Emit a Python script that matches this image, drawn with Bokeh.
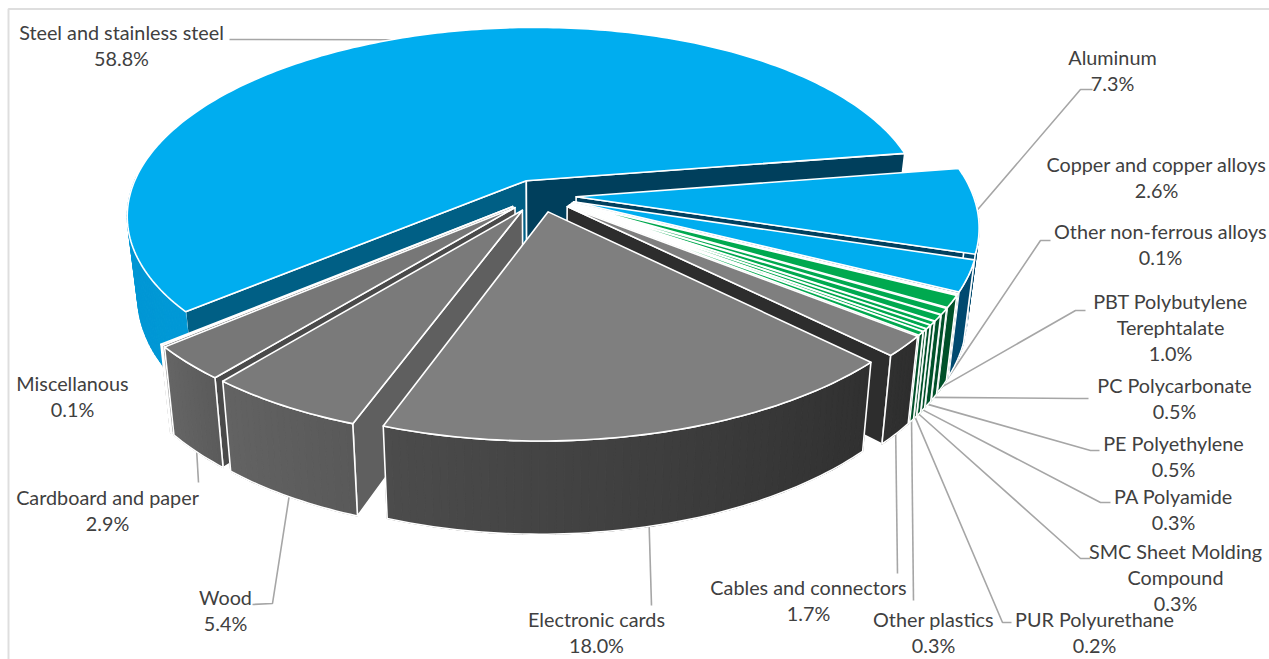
import math
from bokeh.plotting import figure
from bokeh.models import Range1d, ColumnDataSource
from bokeh.core.properties import value
from bokeh.embed import file_html
from bokeh.resources import INLINE

# ---- data -------------------------------------------------------------
materials = ["Steel and stainless steel", "Aluminum", "Copper and copper alloys",
             "Other non-ferrous alloys", "PBT Polybutylene Terephtalate", "PC Polycarbonate",
             "PE Polyethylene", "PA Polyamide", "SMC Sheet Molding Compound",
             "PUR Polyurethane", "Other plastics", "Cables and connectors",
             "Electronic cards", "Wood", "Cardboard and paper", "Miscellanous"]
shares = [58.8, 7.3, 2.6, 0.1, 1.0, 0.5, 0.5, 0.3, 0.3, 0.2, 0.3, 1.7, 18.0, 5.4, 2.9, 0.1]
label_lines = [["Steel and stainless steel"], ["Aluminum"], ["Copper and copper alloys"],
               ["Other non-ferrous alloys"], ["PBT Polybutylene", "Terephtalate"], ["PC Polycarbonate"],
               ["PE Polyethylene"], ["PA Polyamide"], ["SMC Sheet Molding", "Compound"],
               ["PUR Polyurethane"], ["Other plastics"], ["Cables and connectors"],
               ["Electronic cards"], ["Wood"], ["Cardboard and paper"], ["Miscellanous"]]

# ---- styles: top colour, side colours (start, end), cut-face colours (start, end)
BLUE, NAVY = "#00adef", "#004a70"
GREEN, DGREEN = "#00a94f", "#00512a"
styles = [
    (BLUE, "#0098d6", "#0096d3", "#005f85", "#003f5c"),
    (BLUE, NAVY, NAVY, "#004464", "#00405f"),
    (BLUE, NAVY, NAVY, "#004464", "#00405f"),
    (BLUE, NAVY, NAVY, "#004464", "#00405f"),
    (GREEN, DGREEN, DGREEN, DGREEN, DGREEN),
    (GREEN, DGREEN, DGREEN, DGREEN, DGREEN),
    (GREEN, DGREEN, DGREEN, DGREEN, DGREEN),
    (GREEN, DGREEN, DGREEN, DGREEN, DGREEN),
    (GREEN, DGREEN, DGREEN, DGREEN, DGREEN),
    (GREEN, DGREEN, DGREEN, DGREEN, DGREEN),
    (GREEN, DGREEN, DGREEN, DGREEN, DGREEN),
    ("#7f7f7f", "#2e2e2e", "#303030", "#2d2d2d", "#2d2d2d"),
    ("#7f7f7f", "#303030", "#4c4c4c", "#2d2d2d", "#2d2d2d"),
    ("#7a7a7a", "#595959", "#636363", "#5f5f5f", "#5f5f5f"),
    ("#777777", "#5a5a5a", "#666666", "#4a4a4a", "#4a4a4a"),
    ("#777777", "#666666", "#666666", "#666666", "#666666"),
]

# ---- layout ------------------------------------------------------------
CX, CY = 540.0, 195.0      # pie centre on the page
A, B = 397.0, 184.0        # radii of the top plane
SKEW = -8.0                # slight horizontal shear of the view
PERSP = 0.17               # perspective strength
BOTTOM_SCALE = 0.975
DEPTH_BACK, DEPTH_NEAR = 78.0, 14.0
EXPLODE = 0.09
START_ANGLE = 139.3        # where the first slice starts, clockwise from 3 o'clock
DRAW_ORDER = [0, 1, 2, 3, 4, 5, 6, 7, 8, 9, 10, 11, 15, 14, 13, 12]

# label centre x, first-line centre y
label_pos = [(121, 31), (1112, 56), (1156, 163), (1160, 230), (1170, 300), (1174, 384),
             (1173, 442), (1173, 495), (1175, 550), (1094, 618), (933, 618), (808, 586),
             (596, 618), (225, 596), (107, 496), (72, 382)]
LINE_STEP = 26.3
# leader: points on the label side, then the rim anchor ("t" top rim / "b" bottom rim / None)
leader_side = [[(229, 39)], [(1092, 89), (1080, 89)], None, [(1050, 240), (1040, 240)],
               [(1085, 310), (1075, 310)], [(1088, 398), (1075, 398)], [(1099, 450), (1090, 450)],
               [(1110, 502), (1100, 502)], [(1090, 558), (1080, 558)], [(1011, 622), (1002, 622)],
               [(913, 600)], [(897, 573)], [(651, 605)], [(252, 604), (272, 603)], [(198, 482)], None]
leader_rim = ["t", "t", None, "b", "b", "b", "b", "b", "b", "b", "b", "b", "b", "b", "b", None]


def project(X, Y, bottom=False):
    den = 1 - PERSP * Y
    x = (A * X + SKEW * Y) / den
    y = B * Y / den
    if bottom:
        return CX + x * BOTTOM_SCALE, CY + y + DEPTH_BACK + DEPTH_NEAR * Y
    return CX + x, CY + y


def mix(c1, c2, t):
    a = [int(c1[i:i + 2], 16) for i in (1, 3, 5)]
    b = [int(c2[i:i + 2], 16) for i in (1, 3, 5)]
    return "#%02x%02x%02x" % tuple(round(u + (v - u) * t) for u, v in zip(a, b))


# slice angles from the values
total = sum(shares)
spans = []
ang = START_ANGLE
for s in shares:
    d = 360.0 * s / total
    spans.append((ang, ang + d))
    ang += d


def rim(i, deg):
    t1, t2 = spans[i]
    m = math.radians((t1 + t2) / 2)
    t = math.radians(deg)
    return EXPLODE * math.cos(m) + math.cos(t), EXPLODE * math.sin(m) + math.sin(t)


def apex(i):
    t1, t2 = spans[i]
    m = math.radians((t1 + t2) / 2)
    return EXPLODE * math.cos(m), EXPLODE * math.sin(m)


def arc(t1, t2, step=1.0):
    n = max(1, int(math.ceil((t2 - t1) / step)))
    return [t1 + (t2 - t1) * k / n for k in range(n + 1)]


faces = dict(xs=[], ys=[], fill=[], line=[], lw=[])


def add(pts, fill, line="#ffffff", lw=1.6):
    faces["xs"].append([q[0] for q in pts])
    faces["ys"].append([q[1] for q in pts])
    faces["fill"].append(fill)
    faces["line"].append(line)
    faces["lw"].append(lw)


for i in DRAW_ORDER:
    t1, t2 = spans[i]
    top, side1, side2, cut1, cut2 = styles[i]
    ax, ay = apex(i)
    # the two flat cut faces, only when they turn towards the viewer
    for deg, col, normal in ((t1, cut1, t1 - 90), (t2, cut2, t2 + 90)):
        if math.sin(math.radians(normal)) > 0:
            rx, ry = rim(i, deg)
            add([project(ax, ay), project(rx, ry), project(rx, ry, True), project(ax, ay, True)], col)
    # outer wall, only where it faces the viewer
    vis = [d for d in arc(t1, t2) if math.sin(math.radians(d)) > -0.035]
    if len(vis) >= 2:
        for k in range(len(vis) - 1):
            d1, d2 = vis[k], vis[k + 1]
            f = (k + 0.5) / (len(vis) - 1)
            c = mix(side1, side2, f)
            p1, p2 = rim(i, d1), rim(i, d2)
            add([project(*p1), project(*p2), project(*p2, True), project(*p1, True)], c, c, 1.1)
        if i != 0:
            upper = [project(*rim(i, d)) for d in vis]
            lower = [project(*rim(i, d), True) for d in reversed(vis)]
            add(upper + lower, None)
    pts = [project(ax, ay)] + [project(*rim(i, d)) for d in arc(t1, t2)]
    add(pts, top)

p = figure(width=1269, height=659, output_backend="svg", toolbar_location=None,
           x_range=Range1d(0, 1269), y_range=Range1d(659, 0), min_border=0,
           x_axis_type=None, y_axis_type=None, outline_line_color=None)
p.xgrid.visible = False
p.ygrid.visible = False

# chart frame: only its top and left edges show in the window
p.line([8, 8, 1269], [659, 8.5, 8.5], line_color="#dedede", line_width=2)

# leaders
for i, side in enumerate(leader_side):
    if side is None:
        continue
    mid = sum(spans[i]) / 2
    anchor = project(*rim(i, mid), leader_rim[i] == "b")
    pts = side + [anchor]
    p.line([q[0] for q in pts], [q[1] for q in pts], line_color="#a6a6a6", line_width=1.6)

src = ColumnDataSource(faces)
p.patches("xs", "ys", source=src, fill_color="fill", line_color="line", line_width="lw",
          line_join="round")

# labels
lab = dict(x=[], y=[], t=[])
for i, lines in enumerate(label_lines):
    cx, cy = label_pos[i]
    rows = lines + ["%.1f%%" % shares[i]]
    for k, t in enumerate(rows):
        lab["x"].append(cx)
        lab["y"].append(cy + k * LINE_STEP)
        lab["t"].append(t)
p.text("x", "y", "t", source=ColumnDataSource(lab), text_font=value("Lato"), text_font_size="19.8px",
       text_color="#404040", text_align="center", text_baseline="middle")

open("out.html", "w").write(file_html(p, INLINE))
